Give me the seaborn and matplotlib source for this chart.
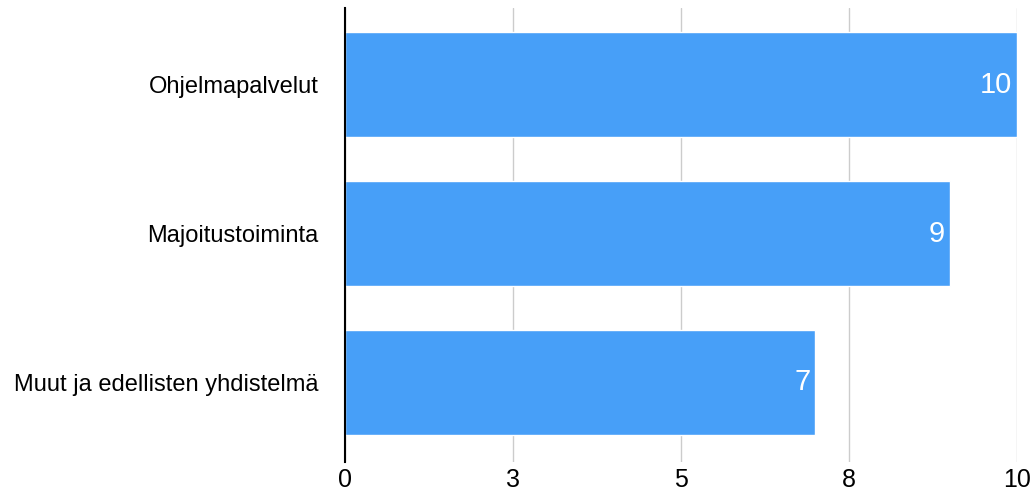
import matplotlib
matplotlib.use("Agg")
import matplotlib.pyplot as plt
import seaborn as sns
import pandas as pd

categories = ["Ohjelmapalvelut", "Majoitustoiminta", "Muut ja edellisten yhdistelmä"]
values = [10, 9, 7]
tick_values = [0, 2.5, 5, 7.5, 10]
tick_labels = ["0", "3", "5", "8", "10"]

df = pd.DataFrame({"category": categories, "value": values})

sns.set_theme(style="white")
plt.rcParams["font.family"] = ["Liberation Sans", "DejaVu Sans"]

fig = plt.figure(figsize=(10.35, 4.99), dpi=100)
ax = fig.add_axes([345 / 1035, 37 / 499, 672 / 1035, 454 / 499])

sns.barplot(data=df, x="value", y="category", color="#479FF8", saturation=1,
            width=0.705, ax=ax, zorder=3)

ax.set_xlim(0, 10)
ax.set_ylim(2.535, -0.515)
ax.set_xticks(tick_values)
ax.set_xticklabels(tick_labels, fontsize=18, color="black")
ax.tick_params(axis="y", labelsize=17, labelcolor="black", length=0, pad=19)
ax.tick_params(axis="x", length=0, pad=4)
ax.set_xlabel("")
ax.set_ylabel("")

ax.grid(axis="x", color="#cccccc", linewidth=1, zorder=0)
for side in ["top", "right", "bottom"]:
    ax.spines[side].set_visible(False)
ax.spines["left"].set_color("black")
ax.spines["left"].set_linewidth(1.5)
ax.spines["left"].set_zorder(4)

for patch, v in zip(ax.patches, values):
    y = patch.get_y() + patch.get_height() / 2
    ax.text(patch.get_width() - 0.07, y, f"{v}", ha="right", va="center",
            color="white", fontsize=21, zorder=5)

fig.savefig("out.png", dpi=100)
